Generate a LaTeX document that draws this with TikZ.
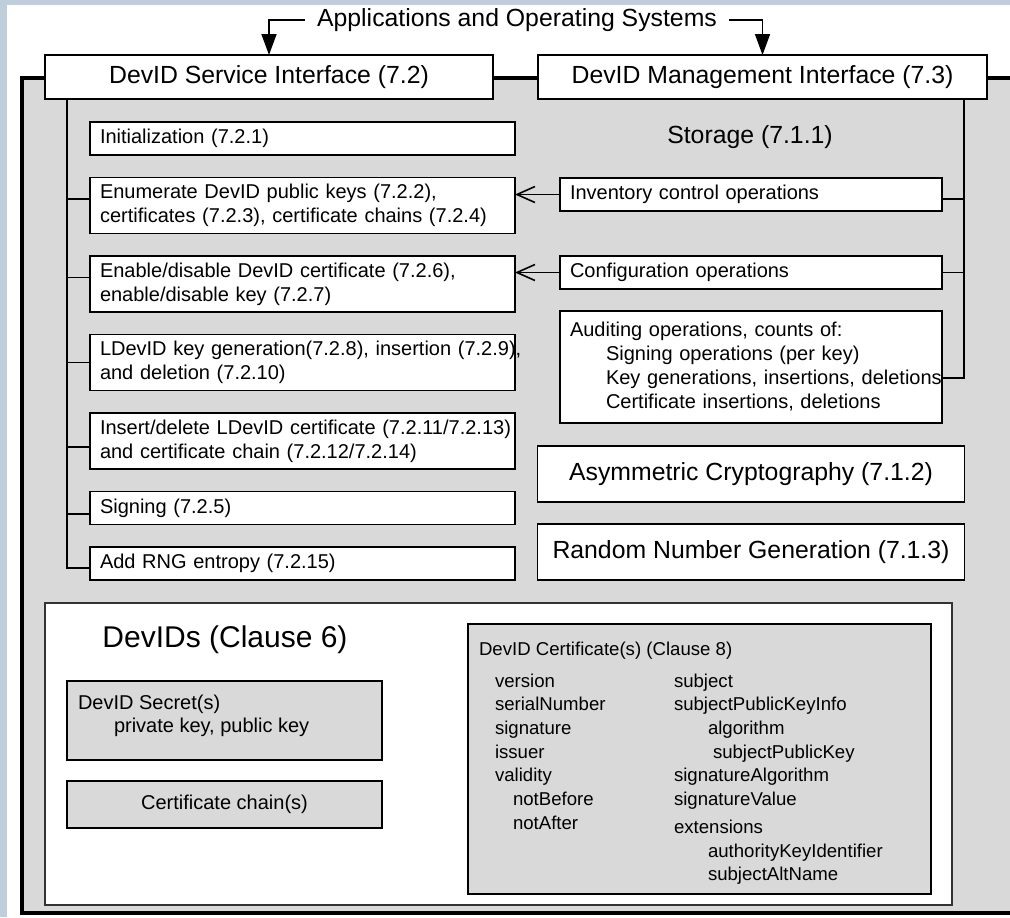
\documentclass[tikz,border=0pt]{standalone}
\usepackage{fontspec}
\setmainfont{Liberation Sans}
\usetikzlibrary{arrows.meta}
\usetikzlibrary{positioning}
\definecolor{panelgray}{HTML}{D9D9D9}
\definecolor{framebg}{HTML}{C0CEDC}

\begin{document}
\begin{tikzpicture}[%
        x=0.5pt, y=-0.5pt,
        every node/.style={inner sep=0pt, outer sep=0pt, text=black},
        small/.style={font=\fontsize{10}{12}\selectfont},
        big/.style={font=\fontsize{12.4}{15}\selectfont},
        certtext/.style={font=\fontsize{9.3}{11.85}\selectfont},
        opbox/.style={small, draw, fill=white, line width=0.8pt, inner xsep=5pt, align=left},
        lbox/.style={opbox, text width=202.5pt, minimum height=16.5pt},
        rbox/.style={opbox, text width=181pt, minimum height=16.5pt},
        twoline/.style={minimum height=28pt},
        bigbox/.style={big, draw, fill=white, line width=0.8pt, minimum height=28pt, minimum width=213.5pt},
        ifbox/.style={big, draw, fill=white, line width=0.8pt, minimum height=22pt},
        graybox/.style={small, draw, fill=panelgray, line width=0.8pt},
        tick/.style={line width=0.8pt},
        barb/.style={tick, -{Straight Barb[length=9pt,width=8pt]}},
        node distance=11.25pt
      ]
      \useasboundingbox (0,0) rectangle (1010,917);
      \clip (0,0) rectangle (1010,917);
      \fill[framebg] (0,0) rectangle (1010,917);
      \fill[white] (7,5) rectangle (1010,917);
      \draw[line width=2.2pt, fill=panelgray] (22,78) rectangle (1040,913);

      \node[big, inner xsep=6pt] (apps) at (517,20) {Applications and Operating Systems};
      \node[ifbox, minimum width=224pt, anchor=north west] (svc) at (45,55) {DevID Service Interface (7.2)};
      \node[ifbox, minimum width=224.5pt, anchor=north west] (mgmt) at (538,55) {DevID Management Interface (7.3)};
      \draw[tick, -{Triangle[length=10.5pt,width=7.5pt]}] (apps.west) -| (svc.north);
      \draw[tick, -{Triangle[length=10.5pt,width=7.5pt]}] (apps.east) -| (mgmt.north);

      \node[lbox, anchor=north west] (init) at (90,122) {Initialization (7.2.1)};
      \node[lbox, twoline, below=of init] (enum) {Enumerate DevID public keys (7.2.2),\\certificates (7.2.3), certificate chains (7.2.4)};
      \node[lbox, twoline, below=of enum] (enable) {Enable/disable DevID certificate (7.2.6),\\enable/disable key (7.2.7)};
      \node[lbox, twoline, below=of enable] (ldevid) {\mbox{LDevID key generation(7.2.8), insertion (7.2.9),}\\and deletion (7.2.10)};
      \node[lbox, twoline, below=of ldevid] (insert) {\mbox{Insert/delete LDevID certificate (7.2.11/7.2.13)}\\and certificate chain (7.2.12/7.2.14)};
      \node[lbox, below=of insert] (sign) {Signing (7.2.5)};
      \node[lbox, below=of sign] (rng) {Add RNG entropy (7.2.15)};

      \coordinate (lbus) at (67,99);
      \draw[tick] (lbus) |- ([yshift=-2.25pt]rng.west);
      \foreach \n/\s in {enum/3.25pt, enable/3.25pt, ldevid/0pt, insert/-3pt, sign/-3pt}
        \draw[tick] ([yshift=\s]\n.west) -| (lbus);

      \node[big] (storage) at (750,137) {Storage (7.1.1)};
      \node[rbox, anchor=north west] (inv) at (560,178) {Inventory control operations};
      \node[rbox, below=22.5pt of inv] (config) {Configuration operations};
      \node[rbox, below=11pt of config, minimum height=56pt] (audit) {Auditing operations, counts of:\\\hspace*{18pt}Signing operations (per key)\\\mbox{\hspace{18pt}Key generations, insertions, deletions}\\\hspace*{18pt}Certificate insertions, deletions};
      \node[bigbox, below=11.5pt of audit] (asym) {Asymmetric Cryptography (7.1.2)};
      \node[bigbox, below=11pt of asym] (rand) {Random Number Generation (7.1.3)};

      \coordinate (rbus) at (964,99);
      \draw[tick] (rbus) |- ([yshift=-5.5pt]audit.east);
      \draw[tick] ([yshift=-2.25pt]inv.east) -| (rbus);
      \draw[tick] (config.east) -| (rbus);
      \draw[barb] (inv.west) -- (inv.west -| enum.east);
      \draw[barb] (config.west) -- (config.west -| enable.east);

      \node[draw=black!80, fill=white, line width=0.6pt, minimum width=453.5pt, minimum height=151pt, anchor=north west] (devids) at (45,603) {};
      \node[font=\fontsize{15}{18}\selectfont] (devidstitle) at (225,640) {DevIDs (Clause 6)};
      \node[graybox, minimum width=157.5pt, minimum height=39.5pt, anchor=north west] (secret) at (67,681) {};
      \node[font=\fontsize{10}{11.5}\selectfont, align=left, anchor=north west] (secrettxt) at (78,693) {\strut DevID Secret(s)\\\hspace*{18pt}private key, public key};
      \node[graybox, minimum width=157.5pt, minimum height=23.5pt, anchor=north west] (chain) at (67,781) {Certificate chain(s)};

      \node[graybox, minimum width=231.5pt, minimum height=135pt, anchor=north west] (cert) at (468,624) {};
      \node[certtext, anchor=base west] (certtitle) at (479,655) {DevID Certificate(s) (Clause 8)};
      \node[certtext, align=left, anchor=north west] (certleft) at (495,670.5) {\strut version\\serialNumber\\signature\\issuer\\validity\\\hspace*{9pt}notBefore\\\hspace*{9pt}notAfter};
      \node[certtext, align=left, anchor=north west] (certright) at (674,670.5) {\strut subject\\subjectPublicKeyInfo\\\hspace*{17pt}algorithm\\\hspace*{19.5pt}subjectPublicKey\\signatureAlgorithm\\signatureValue\\[2pt]extensions\\\hspace*{17pt}authorityKeyIdentifier\\\hspace*{17pt}subjectAltName};
    \end{tikzpicture}
\end{document}
